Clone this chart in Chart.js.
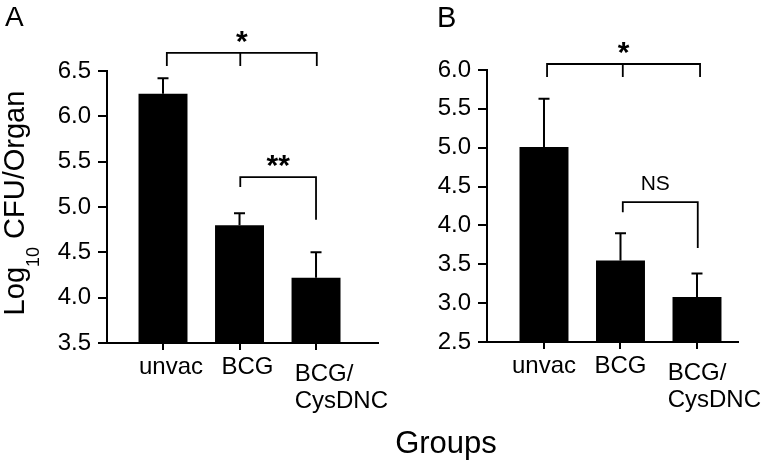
<!DOCTYPE html>
<html>
<head>
<meta charset="utf-8">
<script src="https://cdn.jsdelivr.net/npm/chart.js@4.4.1/dist/chart.umd.min.js"></script>
<style>
  html, body { margin: 0; padding: 0; background: #fff; }
  #wrap { position: relative; width: 765px; height: 465px; overflow: hidden; background: #fff; font-family: "Liberation Sans", Arial, sans-serif; color: #000; }
  canvas { position: absolute; top: 0; }
  #cA { left: 0; z-index: 2; }
  #cB { left: 380px; z-index: 1; }
  .lbl { position: absolute; line-height: 1; white-space: nowrap; z-index: 3; }
  #panelA { left: 5px; top: 3px; font-size: 28px; }
  #panelB { left: 437px; top: 3px; font-size: 29px; }
  #ytitle { left: 16px; top: 203px; font-size: 29px; transform: translate(-50%, -50%) rotate(-90deg); }
  #ytitle sub { font-size: 18px; vertical-align: -15px; line-height: 0; }
  #xtitle { left: 446px; top: 427px; font-size: 31px; transform: translateX(-50%); }
</style>
</head>
<body>
<div id="wrap">
  <canvas id="cA" width="400" height="465"></canvas>
  <canvas id="cB" width="385" height="465"></canvas>
  <div class="lbl" id="panelA">A</div>
  <div class="lbl" id="panelB">B</div>
  <div class="lbl" id="ytitle">Log<sub>10</sub> CFU/Organ</div>
  <div class="lbl" id="xtitle">Groups</div>
</div>
<script>
// ---- data ----
const categories = ['unvac', 'BCG', ['BCG/', 'CysDNC']];

const meansA = [6.25, 4.80, 4.22];
const errorsA = [0.17, 0.13, 0.28];
const yTicksA = [3.5, 4.0, 4.5, 5.0, 5.5, 6.0, 6.5];

const meansB = [5.01, 3.55, 3.08];
const errorsB = [0.62, 0.35, 0.30];
const yTicksB = [2.5, 3.0, 3.5, 4.0, 4.5, 5.0, 5.5, 6.0];

// significance brackets (x in category units, y in data units)
const bracketsA = [
  { from: 1.05, to: 3.01, mid: 2.01, top: 6.70, dropL: 6.555, dropM: 6.555, dropR: 6.555, text: '*' },
  { from: 2.01, to: 3.00, top: 5.33, dropL: 5.22, dropR: 4.86, text: '**' }
];
const bracketsB = [
  { from: 1.04, to: 3.04, mid: 2.03, top: 6.077, dropL: 5.91, dropM: 5.91, dropR: 5.91, text: '*' },
  { from: 2.03, to: 3.01, top: 4.30, dropL: 4.17, dropR: 3.71, text: 'NS' }
];

// ---- drawing ----
const FONT = '"Liberation Sans", Arial, sans-serif';

function makePlugin(errors, means, brackets, labelShift) {
  return {
    id: 'extras',
    afterDatasetsDraw(chart) {
      const ctx = chart.ctx, xs = chart.scales.x, ys = chart.scales.y;
      ctx.save();
      ctx.strokeStyle = '#000';
      ctx.lineWidth = 2;
      means.forEach((m, i) => {
        const x = xs.getPixelForValue(i + 1);
        const y0 = ys.getPixelForValue(m);
        const y1 = ys.getPixelForValue(m + errors[i]);
        ctx.beginPath();
        ctx.moveTo(x, y0);
        ctx.lineTo(x, y1);
        ctx.moveTo(x - 5.5, y1);
        ctx.lineTo(x + 5.5, y1);
        ctx.stroke();
      });
      ctx.restore();
    },
    afterDraw(chart) {
      const ctx = chart.ctx, xs = chart.scales.x, ys = chart.scales.y;
      const bottom = chart.chartArea.bottom;
      ctx.save();
      // category labels
      ctx.fillStyle = '#000';
      ctx.font = '24px ' + FONT;
      ctx.textBaseline = 'alphabetic';
      categories.forEach((c, i) => {
        const x = xs.getPixelForValue(i + 1) + labelShift;
        if (Array.isArray(c)) {
          const w = ctx.measureText(c[0]).width;
          ctx.textAlign = 'left';
          c.forEach((line, j) => ctx.fillText(line, x - w / 2, bottom + 38 + j * 27));
        } else {
          ctx.textAlign = 'center';
          ctx.fillText(c, x, bottom + 31);
        }
      });
      // brackets
      ctx.strokeStyle = '#000';
      ctx.lineWidth = 1.8;
      brackets.forEach(b => {
        const xL = xs.getPixelForValue(b.from), xR = xs.getPixelForValue(b.to);
        const yT = ys.getPixelForValue(b.top);
        ctx.beginPath();
        ctx.moveTo(xL, ys.getPixelForValue(b.dropL));
        ctx.lineTo(xL, yT);
        ctx.lineTo(xR, yT);
        ctx.lineTo(xR, ys.getPixelForValue(b.dropR));
        if (b.mid !== undefined) {
          const xM = xs.getPixelForValue(b.mid);
          ctx.moveTo(xM, yT);
          ctx.lineTo(xM, ys.getPixelForValue(b.dropM));
        }
        ctx.stroke();
        const star = b.text.indexOf('*') >= 0;
        ctx.font = star ? 'bold 30px ' + FONT : '21px ' + FONT;
        ctx.textAlign = 'center';
        ctx.textBaseline = 'alphabetic';
        ctx.fillText(b.text, (xL + xR) / 2 - (star ? 0 : 5), yT - (star ? 2 : 12));
      });
      ctx.restore();
    }
  };
}

function makeChart(id, means, errors, yTicks, brackets, o) {
  new Chart(document.getElementById(id), {
    type: 'bar',
    data: {
      datasets: [{
        data: means.map((m, i) => ({ x: i + 1, y: m })),
        backgroundColor: '#000',
        borderWidth: 0,
        barPercentage: 0.64,
        categoryPercentage: 1
      }]
    },
    options: {
      responsive: false,
      animation: false,
      devicePixelRatio: 1,
      layout: { padding: { top: o.top, right: o.right, left: 0, bottom: 0 } },
      plugins: { legend: { display: false }, tooltip: { enabled: false } },
      scales: {
        x: {
          type: 'linear',
          offset: false,
          bounds: 'data',
          min: o.xmin, max: o.xmax,
          afterBuildTicks: s => { s.ticks = categories.map((c, i) => ({ value: i + 1 })); },
          ticks: { callback: () => '', font: { size: 1 } },
          grid: { offset: false, drawOnChartArea: false, drawTicks: true, tickLength: 7, color: '#000', lineWidth: 2 },
          border: { display: true, color: '#000', width: 2 },
          afterFit: s => { s.height = o.xh; }
        },
        y: {
          type: 'linear',
          min: yTicks[0], max: yTicks[yTicks.length - 1],
          afterBuildTicks: s => { s.ticks = yTicks.map(v => ({ value: v })); },
          ticks: { callback: v => Number(v).toFixed(1), color: '#000', padding: 7, font: { family: FONT, size: 24 } },
          grid: { drawOnChartArea: false, drawTicks: true, tickLength: 9, color: '#000', lineWidth: 2 },
          border: { display: true, color: '#000', width: 2 },
          afterFit: s => { s.width = 107; }
        }
      }
    },
    plugins: [makePlugin(errors, means, brackets, o.shift)]
  });
}

makeChart('cA', meansA, errorsA, yTicksA, bracketsA,
  { top: 71, right: 22, xmin: 0.268, xmax: 3.81, xh: 122, shift: 8 });
makeChart('cB', meansB, errorsB, yTicksB, bracketsB,
  { top: 70, right: 27, xmin: 0.255, xmax: 3.536, xh: 123, shift: 0 });
</script>
</body>
</html>
